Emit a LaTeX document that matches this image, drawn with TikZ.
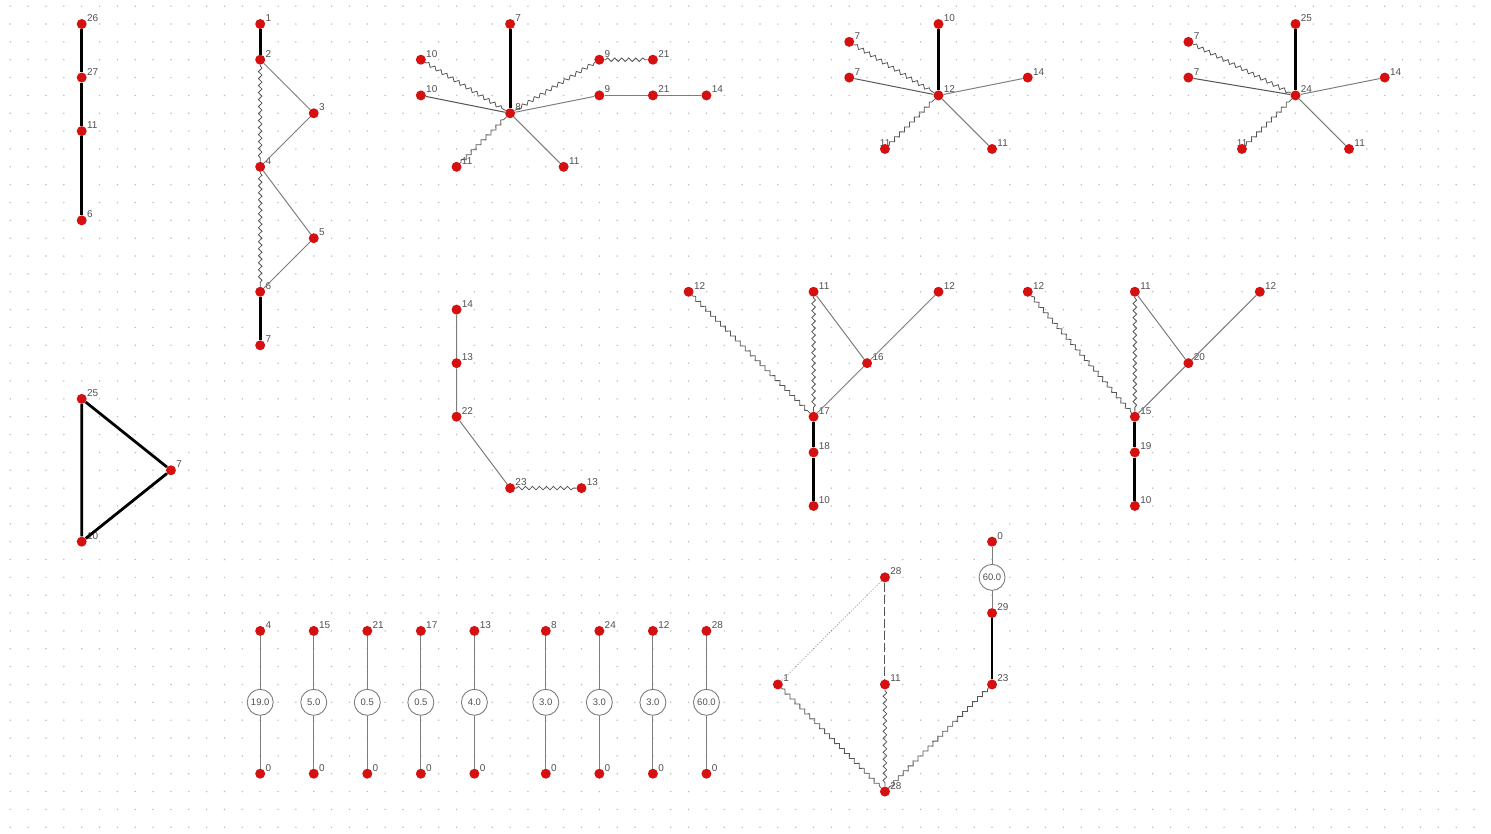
\documentclass[tikz,border=0pt]{standalone}
\usepackage{fontspec}
\setmainfont{Liberation Sans}
\usepackage{tikz}
\usetikzlibrary{decorations.pathmorphing}

\definecolor{dotred}{RGB}{212,16,16}
\definecolor{labelgray}{RGB}{80,80,80}
\definecolor{griddot}{RGB}{190,190,190}
\definecolor{wiregray}{RGB}{125,125,125}
\definecolor{wavegray}{RGB}{85,85,85}

\begin{document}
\begin{tikzpicture}[x=17.85bp, y=-17.85bp,
    pt/.style={circle, fill=dotred, inner sep=0pt, minimum size=10bp},
    lbl/.style={anchor=base west, inner sep=0pt, yshift=2.5bp, text=labelgray,
        font=\fontsize{10}{11}\selectfont},
    res/.style={circle, draw=wiregray, fill=white, line width=0.9bp, inner sep=0pt,
        minimum size=26bp, text=labelgray, font=\fontsize{9.5}{10}\selectfont},
    wire/.style={draw=wiregray, line width=1bp},
    darkwire/.style={draw=wavegray, line width=1bp},
    bond/.style={draw=black, line width=2.8bp},
    wavy/.style={draw=wavegray, line width=0.8bp, decorate,
        decoration={snake, amplitude=1.8bp, segment length=7bp, pre length=1bp, post length=1bp}}]
    \useasboundingbox (-4.577,-1.345) rectangle (78.953,45.322);
    % background grid
    \foreach \i in {-4,...,78}
        \foreach \j in {-1,...,45}
            \fill[griddot] (\i,\j) circle (0.85bp);

    % chain 26-27-11-6
    \node[pt, label={[lbl]0:26}] (a26) at (0,0) {};
    \node[pt, label={[lbl]0:27}] (a27) at (0,3) {};
    \node[pt, label={[lbl]0:11}] (a11) at (0,6) {};
    \node[pt, label={[lbl]0:6}] (a6) at (0,11) {};
    \draw[bond] (a26) -- (a27) -- (a11) -- (a6);

    % ladder 1..7
    \node[pt, label={[lbl]0:1}] (b1) at (10,0) {};
    \node[pt, label={[lbl]0:2}] (b2) at (10,2) {};
    \node[pt, label={[lbl]0:3}] (b3) at (13,5) {};
    \node[pt, label={[lbl]0:4}] (b4) at (10,8) {};
    \node[pt, label={[lbl]0:5}] (b5) at (13,12) {};
    \node[pt, label={[lbl]0:6}] (b6) at (10,15) {};
    \node[pt, label={[lbl]0:7}] (b7) at (10,18) {};
    \draw[bond] (b1) -- (b2);
    \draw[bond] (b6) -- (b7);
    \draw[wavy] (b2) -- (b4);
    \draw[wavy] (b4) -- (b6);
    \draw[wire] (b2) -- (b3) -- (b4) -- (b5) -- (b6);

    % star around 8
    \node[pt, label={[lbl]0:7}] (c7) at (24,0) {};
    \node[pt, label={[lbl]0:10}] (c10a) at (19,2) {};
    \node[pt, label={[lbl]0:10}] (c10b) at (19,4) {};
    \node[pt, label={[lbl]0:8}] (c8) at (24,5) {};
    \node[pt, label={[lbl]0:9}] (c9a) at (29,2) {};
    \node[pt, label={[lbl]0:21}] (c21a) at (32,2) {};
    \node[pt, label={[lbl]0:9}] (c9b) at (29,4) {};
    \node[pt, label={[lbl]0:21}] (c21b) at (32,4) {};
    \node[pt, label={[lbl]0:14}] (c14) at (35,4) {};
    \node[pt, label={[lbl]0:11}] (c11a) at (21,8) {};
    \node[pt, label={[lbl]0:11}] (c11b) at (27,8) {};
    \draw[bond] (c7) -- (c8);
    \draw[wavy] (c10a) -- (c8);
    \draw[wavy] (c9a) -- (c8);
    \draw[wavy] (c9a) -- (c21a);
    \draw[wavy] (c11a) -- (c8);
    \draw[darkwire] (c10b) -- (c8);
    \draw[wire] (c9b) -- (c8);
    \draw[wire] (c9b) -- (c21b) -- (c14);
    \draw[wire] (c11b) -- (c8);

    % star around 12
    \node[pt, label={[lbl]0:10}] (d10) at (48,0) {};
    \node[pt, label={[lbl]0:7}] (d7a) at (43,1) {};
    \node[pt, label={[lbl]0:7}] (d7b) at (43,3) {};
    \node[pt, label={[lbl]0:12}] (d12) at (48,4) {};
    \node[pt, label={[lbl]0:14}] (d14) at (53,3) {};
    \node[pt, label={[lbl]180:11}] (d11a) at (45,7) {};
    \node[pt, label={[lbl]0:11}] (d11b) at (51,7) {};
    \draw[bond] (d10) -- (d12);
    \draw[wavy] (d7a) -- (d12);
    \draw[wavy] (d11a) -- (d12);
    \draw[darkwire] (d7b) -- (d12);
    \draw[wire] (d14) -- (d12);
    \draw[wire] (d11b) -- (d12);

    % star around 24
    \node[pt, label={[lbl]0:25}] (e25) at (68,0) {};
    \node[pt, label={[lbl]0:7}] (e7a) at (62,1) {};
    \node[pt, label={[lbl]0:7}] (e7b) at (62,3) {};
    \node[pt, label={[lbl]0:24}] (e24) at (68,4) {};
    \node[pt, label={[lbl]0:14}] (e14) at (73,3) {};
    \node[pt, label={[lbl]180:11}] (e11a) at (65,7) {};
    \node[pt, label={[lbl]0:11}] (e11b) at (71,7) {};
    \draw[bond] (e25) -- (e24);
    \draw[wavy] (e7a) -- (e24);
    \draw[wavy] (e11a) -- (e24);
    \draw[darkwire] (e7b) -- (e24);
    \draw[wire] (e14) -- (e24);
    \draw[wire] (e11b) -- (e24);

    % triangle 25-7-10
    \node[pt, label={[lbl]0:25}] (t25) at (0,21) {};
    \node[pt, label={[lbl]0:7}] (t7) at (5,25) {};
    \node[pt, label={[lbl]0:10}] (t10) at (0,29) {};
    \draw[bond] (t25) -- (t7) -- (t10) -- (t25);

    % chain 14-13-22-23-13
    \node[pt, label={[lbl]0:14}] (f14) at (21,16) {};
    \node[pt, label={[lbl]0:13}] (f13a) at (21,19) {};
    \node[pt, label={[lbl]0:22}] (f22) at (21,22) {};
    \node[pt, label={[lbl]0:23}] (f23) at (24,26) {};
    \node[pt, label={[lbl]0:13}] (f13b) at (28,26) {};
    \draw[wire] (f14) -- (f13a) -- (f22) -- (f23);
    \draw[wavy] (f23) -- (f13b);

    % fork at 17
    \node[pt, label={[lbl]0:12}] (g12a) at (34,15) {};
    \node[pt, label={[lbl]0:11}] (g11) at (41,15) {};
    \node[pt, label={[lbl]0:12}] (g12b) at (48,15) {};
    \node[pt, label={[lbl]0:16}] (g16) at (44,19) {};
    \node[pt, label={[lbl]0:17}] (g17) at (41,22) {};
    \node[pt, label={[lbl]0:18}] (g18) at (41,24) {};
    \node[pt, label={[lbl]0:10}] (g10) at (41,27) {};
    \draw[wavy] (g12a) -- (g17);
    \draw[wavy] (g11) -- (g17);
    \draw[wire] (g11) -- (g16);
    \draw[wire] (g12b) -- (g16) -- (g17);
    \draw[bond] (g17) -- (g18) -- (g10);

    % fork at 15
    \node[pt, label={[lbl]0:12}] (h12a) at (53,15) {};
    \node[pt, label={[lbl]0:11}] (h11) at (59,15) {};
    \node[pt, label={[lbl]0:12}] (h12b) at (66,15) {};
    \node[pt, label={[lbl]0:20}] (h20) at (62,19) {};
    \node[pt, label={[lbl]0:15}] (h15) at (59,22) {};
    \node[pt, label={[lbl]0:19}] (h19) at (59,24) {};
    \node[pt, label={[lbl]0:10}] (h10) at (59,27) {};
    \draw[wavy] (h12a) -- (h15);
    \draw[wavy] (h11) -- (h15);
    \draw[wire] (h11) -- (h20);
    \draw[wire] (h12b) -- (h20) -- (h15);
    \draw[bond] (h15) -- (h19) -- (h10);

    % weights to ground
    \foreach \x/\top/\val in {10/4/19.0, 13/15/5.0, 16/21/0.5, 19/17/0.5, 22/13/4.0,
                              26/8/3.0, 29/24/3.0, 32/12/3.0, 35/28/60.0} {
        \node[pt, label={[lbl]0:\top}] (rt\x) at (\x,34) {};
        \node[res] (rc\x) at (\x,38) {\val};
        \node[pt, label={[lbl]0:0}] (rg\x) at (\x,42) {};
        \draw[wire] (rt\x) -- (rc\x) -- (rg\x);
    }

    % diamond at bottom
    \node[pt, label={[lbl]0:28}] (j28a) at (45,31) {};
    \node[pt, label={[lbl]0:1}] (j1) at (39,37) {};
    \node[pt, label={[lbl]0:11}] (j11) at (45,37) {};
    \node[pt, label={[lbl]0:28}] (j28b) at (45,43) {};
    \node[pt, label={[lbl]0:23}] (j23) at (51,37) {};
    \node[pt, label={[lbl]0:29}] (j29) at (51,33) {};
    \node[res] (jres) at (51,31) {60.0};
    \node[pt, label={[lbl]0:0}] (j0) at (51,29) {};
    \draw[draw=wiregray, line width=0.8bp, dotted] (j28a) -- (j1);
    \draw[draw=wavegray, line width=1bp, dash pattern=on 9bp off 3bp] (j28a) -- (j11);
    \draw[wavy] (j1) -- (j28b);
    \draw[wavy] (j11) -- (j28b);
    \draw[wavy] (j23) -- (j28b);
    \draw[bond] (j23) -- (j29);
    \draw[wire] (j29) -- (jres) -- (j0);
\end{tikzpicture}
\end{document}
